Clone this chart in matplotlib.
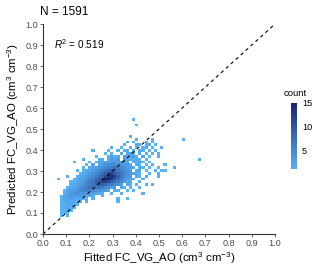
import numpy as np
import matplotlib
matplotlib.use('Agg')
import matplotlib.pyplot as plt
from matplotlib.colors import LinearSegmentedColormap

plt.rcParams['font.family'] = ['Liberation Sans', 'DejaVu Sans']
plt.rcParams['mathtext.fontset'] = 'custom'
plt.rcParams['mathtext.rm'] = 'Liberation Sans'
plt.rcParams['mathtext.it'] = 'Liberation Sans:italic'

# bin grid (fitted on x, predicted on y)
x0, y0, bw = 0.06, 0.08, 0.0135
n_cols, n_rows = 48, 36

# counts per row: row index (bottom = 0) -> (first column, cells)
# '.' = empty, 1-9 and a-f = 10-15
rows = {
    34: (24, "1"),
    32: (25, "1"),
    28: (23, "1"),
    27: (25, "1....1.........1"),
    26: (22, "1.1...1.1"),
    25: (21, "1...21.11.1"),
    24: (17, "1..1..1.1.12.1..1"),
    23: (11, "1....1..1.12.1.21.1.1"),
    22: (15, "1.1..2.231.2.1.1.1"),
    21: (12, "1...1212.32231.2.1..1"),
    20: (8, "1....12.2323.322121.1................1"),
    19: (5, "1....1.12233343432.2121.1"),
    18: (9, "1.2.23445544332.21.1.1...1"),
    17: (8, "1.223445667654332.11.1..1....1"),
    16: (6, "1.1223456789876543.22.1..1.11"),
    15: (7, "122345689bca87543221..1..1"),
    14: (3, "1..122345689bdec97543.21.1...1"),
    13: (0, "1....122345689cefda864322..1"),
    12: (4, "112335679accb9865322..1"),
    11: (4, "12234567899876543.21.1..1.1"),
    10: (3, "1223456777765433.21.1..1"),
    9: (2, "123345565544332.11..1.1"),
    8: (2, "1234444333221..1..1......1"),
    7: (1, "12333332221..1"),
    6: (1, "122322211.1.......1..1"),
    5: (1, "1222211.1.........1"),
    4: (1, "112211"),
    3: (1, "12211"),
    2: (1, "1121"),
    1: (1, "111"),
    0: (1, "1.1"),
}

n_obs = 1591
r2 = 0.519

counts = np.zeros((n_rows, n_cols))
for j, (start, cells) in rows.items():
    for k, c in enumerate(cells):
        if c != '.':
            counts[j, start + k] = int(c, 16)
counts = np.ma.masked_equal(counts, 0)

x_edges = x0 + bw * np.arange(n_cols + 1)
y_edges = y0 + bw * np.arange(n_rows + 1)

cmap = LinearSegmentedColormap.from_list('cnt', ['#56B1F7', '#1B2270'])

fig = plt.figure(figsize=(3.2, 2.69), dpi=100)
ax = fig.add_axes([43 / 320, 1 - 234 / 269, 232 / 320, 210 / 269])

mesh = ax.pcolormesh(x_edges, y_edges, counts, cmap=cmap, vmin=1, vmax=15)
ax.plot([0, 1], [0, 1], ls=(0, (3, 3)), color='black', lw=0.8)

ax.set_xlim(0, 1)
ax.set_ylim(0, 1)
ticks = np.round(np.arange(0, 1.01, 0.1), 1)
ax.set_xticks(ticks)
ax.set_yticks(ticks)
ax.set_xticklabels([f'{t:.1f}' for t in ticks])
ax.set_yticklabels([f'{t:.1f}' for t in ticks])
for s in ['top', 'right']:
    ax.spines[s].set_visible(False)
for s in ['left', 'bottom']:
    ax.spines[s].set_color('#333333')
    ax.spines[s].set_linewidth(0.8)
ax.tick_params(labelsize=6.6, colors='#4D4D4D', length=2, width=0.6, pad=1.5)

ax.set_xlabel('Fitted FC_VG_AO (cm$^3$ cm$^{-3}$)', fontsize=8.2, labelpad=2)
ax.set_ylabel('Predicted FC_VG_AO (cm$^3$ cm$^{-3}$)', fontsize=8.2, labelpad=3)
ax.text(0.047, 0.905, f'$R^2$ = {r2}', fontsize=7.2, va='center', ha='left')
fig.text(40 / 320, 1 - 12 / 269, f'N = {n_obs}', fontsize=8.5, va='center', ha='left')

cax = fig.add_axes([291 / 320, 1 - 169 / 269, 6 / 320, 66 / 269])
cb = fig.colorbar(mesh, cax=cax, ticks=[5, 10, 15])
cb.outline.set_visible(False)
cax.tick_params(labelsize=6.6, length=2, width=0.5, colors='white', pad=1.5)
for lab in cax.get_yticklabels():
    lab.set_color('black')
fig.text(284 / 320, 1 - 93 / 269, 'count', fontsize=6.8, va='center', ha='left')

fig.savefig('out.png', dpi=100)
